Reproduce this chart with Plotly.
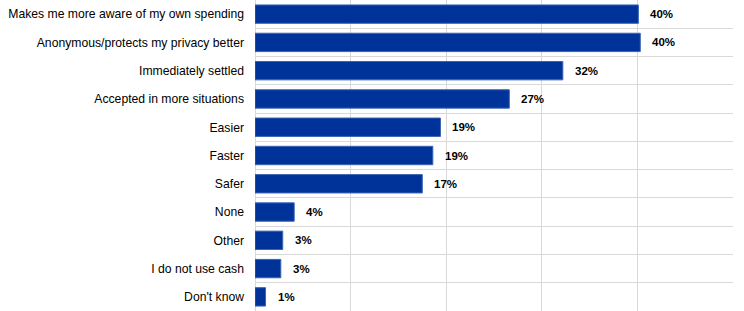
import plotly.graph_objects as go

categories = [
    "Makes me more aware of my own spending",
    "Anonymous/protects my privacy better",
    "Immediately settled",
    "Accepted in more situations",
    "Easier",
    "Faster",
    "Safer",
    "None",
    "Other",
    "I do not use cash",
    "Don't know",
]
values = [40.1, 40.3, 32.2, 26.6, 19.4, 18.6, 17.5, 4.1, 2.9, 2.7, 1.1]
value_labels = ["40%", "40%", "32%", "27%", "19%", "19%", "17%", "4%", "3%", "3%", "1%"]
x_ticks = [0, 10, 20, 30, 40, 50]

fig = go.Figure()
fig.add_trace(go.Bar(
    x=values,
    y=categories,
    orientation="h",
    width=0.65,
    marker=dict(color="#003399", line=dict(color="#3a64b4", width=1)),
    hoverinfo="skip",
))

for c, v, t in zip(categories, values, value_labels):
    fig.add_annotation(
        x=v, y=c, text="<b>%s</b>" % t, showarrow=False,
        xanchor="left", xshift=10,
        font=dict(family="Liberation Sans, Arial", size=11.5, color="#000000"),
    )

fig.update_layout(
    width=744, height=311,
    margin=dict(l=255, r=11, t=0, b=0),
    paper_bgcolor="white", plot_bgcolor="white",
    showlegend=False,
    font=dict(family="Liberation Sans, Arial", size=12.2, color="#000000"),
    xaxis=dict(
        range=[0, 50], tickvals=x_ticks, showticklabels=False,
        showgrid=True, gridcolor="#d9d9d9", gridwidth=1,
        zeroline=True, zerolinecolor="#d9d9d9", zerolinewidth=1,
        showline=False, fixedrange=True,
    ),
    yaxis=dict(
        categoryorder="array", categoryarray=categories[::-1],
        tickson="boundaries", showgrid=True, gridcolor="#d9d9d9", gridwidth=1,
        ticks="", ticklabelstandoff=10, showline=False, fixedrange=True,
    ),
)

fig.write_html("out.html")
